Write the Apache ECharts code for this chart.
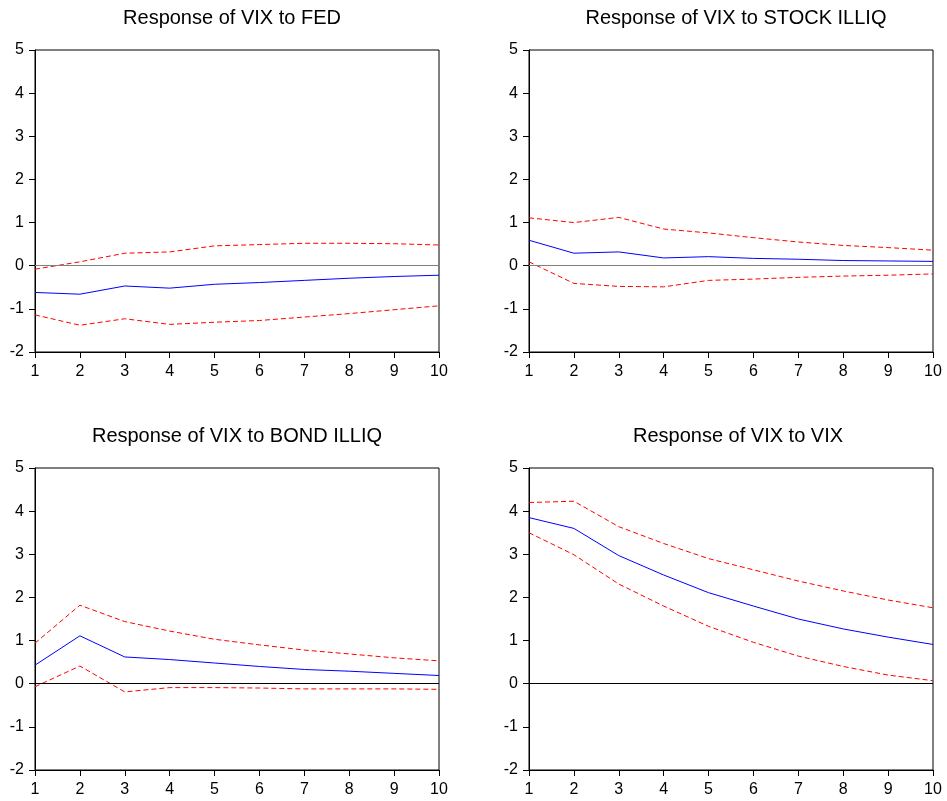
<!DOCTYPE html>
<html>
<head>
<meta charset="utf-8">
<script src="https://cdn.jsdelivr.net/npm/echarts@6/dist/echarts.min.js"></script>
<style>
  html, body { margin: 0; padding: 0; background: #fff; }
  #chart { width: 947px; height: 801px; }
</style>
</head>
<body>
<div id="chart"></div>
<script>
// periods
const periods = ['1', '2', '3', '4', '5', '6', '7', '8', '9', '10']

// Response of VIX to FED
const fedResp = [-0.62, -0.66, -0.47, -0.52, -0.43, -0.39, -0.34, -0.29, -0.25, -0.22]
const fedUpper = [-0.08, 0.09, 0.29, 0.32, 0.46, 0.49, 0.52, 0.52, 0.51, 0.48]
const fedLower = [-1.14, -1.38, -1.23, -1.36, -1.31, -1.27, -1.19, -1.11, -1.02, -0.93]

// Response of VIX to STOCK ILLIQ
const stockResp = [0.59, 0.29, 0.32, 0.18, 0.21, 0.17, 0.15, 0.12, 0.11, 0.10]
const stockUpper = [1.11, 1.0, 1.12, 0.85, 0.76, 0.65, 0.55, 0.47, 0.42, 0.36]
const stockLower = [0.09, -0.41, -0.48, -0.49, -0.34, -0.31, -0.27, -0.24, -0.22, -0.19]

// Response of VIX to BOND ILLIQ
const bondResp = [0.43, 1.11, 0.62, 0.56, 0.48, 0.40, 0.33, 0.29, 0.24, 0.19]
const bondUpper = [0.94, 1.82, 1.44, 1.22, 1.03, 0.90, 0.78, 0.69, 0.60, 0.53]
const bondLower = [-0.07, 0.41, -0.19, -0.09, -0.09, -0.10, -0.12, -0.12, -0.12, -0.13]

// Response of VIX to VIX
const vixResp = [3.85, 3.60, 2.97, 2.52, 2.11, 1.80, 1.50, 1.27, 1.08, 0.91]
const vixUpper = [4.20, 4.23, 3.64, 3.25, 2.90, 2.64, 2.38, 2.15, 1.94, 1.76]
const vixLower = [3.50, 2.99, 2.31, 1.80, 1.33, 0.96, 0.64, 0.40, 0.20, 0.07]

const titles = [
  'Response of VIX to FED',
  'Response of VIX to STOCK ILLIQ',
  'Response of VIX to BOND ILLIQ',
  'Response of VIX to VIX',
]
const panels = [
  { resp: fedResp, upper: fedUpper, lower: fedLower, zeroColor: '#7f7f7f' },
  { resp: stockResp, upper: stockUpper, lower: stockLower, zeroColor: '#7f7f7f' },
  { resp: bondResp, upper: bondUpper, lower: bondLower, zeroColor: '#000' },
  { resp: vixResp, upper: vixUpper, lower: vixLower, zeroColor: '#000' },
]

// grid positions
const lefts = [35, 529]
const tops = [50, 468]
const gw = 404
const gh = 302
// title centres (the titles are not exactly centred over the frames)
const titleCenters = [227, 731, 232, 733]

const font = 'Arial, "Liberation Sans", sans-serif'

const chartDom = document.getElementById('chart')
const myChart = echarts.init(chartDom)

const grid = []
const xAxis = []
const yAxis = []
const title = []
const series = []

panels.forEach((p, i) => {
  const left = lefts[i % 2]
  const top = tops[Math.floor(i / 2)]
  grid.push({
    left: left,
    top: top,
    width: gw,
    height: gh,
    show: true,
    borderColor: '#000',
    borderWidth: 1,
    backgroundColor: '#fff',
  })
  title.push({
    text: titles[i],
    left: titleCenters[i],
    top: top - 47,
    textAlign: 'center',
    textStyle: {
      fontFamily: font,
      fontSize: 20,
      fontWeight: 'normal',
      color: '#000',
    },
  })
  xAxis.push({
    gridIndex: i,
    type: 'category',
    data: periods,
    boundaryGap: false,
    axisLine: { onZero: false, lineStyle: { color: '#000', width: 1 } },
    axisTick: { show: true, length: 6, alignWithLabel: true, lineStyle: { color: '#000' } },
    axisLabel: { color: '#000', fontFamily: font, fontSize: 16, margin: 12, interval: 0 },
    splitLine: { show: false },
  })
  yAxis.push({
    gridIndex: i,
    type: 'value',
    min: -2,
    max: 5,
    interval: 1,
    axisLine: { show: true, lineStyle: { color: '#000', width: 1 } },
    axisTick: { show: true, length: 6, lineStyle: { color: '#000' } },
    axisLabel: { color: '#000', fontFamily: font, fontSize: 16, margin: 11 },
    splitLine: { show: false },
  })
  series.push({
    type: 'line',
    xAxisIndex: i,
    yAxisIndex: i,
    data: p.resp,
    symbol: 'none',
    silent: true,
    lineStyle: { color: '#0000ff', width: 1 },
    markLine: {
      silent: true,
      symbol: 'none',
      label: { show: false },
      lineStyle: { color: p.zeroColor, type: 'solid', width: 1 },
      data: [{ yAxis: 0 }],
    },
  })
  series.push({
    type: 'line',
    xAxisIndex: i,
    yAxisIndex: i,
    data: p.upper,
    symbol: 'none',
    silent: true,
    lineStyle: { color: '#ff0000', width: 1, type: [5, 3] },
  })
  series.push({
    type: 'line',
    xAxisIndex: i,
    yAxisIndex: i,
    data: p.lower,
    symbol: 'none',
    silent: true,
    lineStyle: { color: '#ff0000', width: 1, type: [5, 3] },
  })
})

const option = {
  backgroundColor: '#fff',
  animation: false,
  title: title,
  grid: grid,
  xAxis: xAxis,
  yAxis: yAxis,
  series: series,
}

option && myChart.setOption(option)
</script>
</body>
</html>
